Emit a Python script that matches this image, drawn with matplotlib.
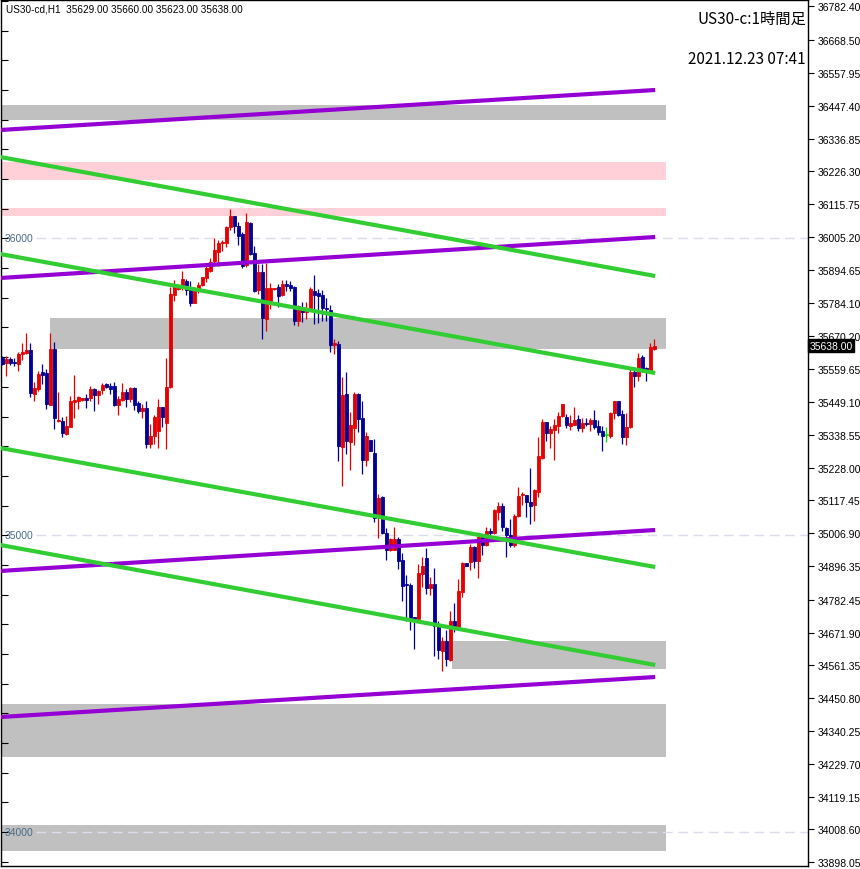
import matplotlib
matplotlib.use("Agg")
import matplotlib.pyplot as plt
from matplotlib.ticker import MultipleLocator

# ---- H1 candles (bar index = position)
opens = [35596, 35580, 35594, 35585, 35577, 35611, 35614, 35624, 35476, 35493,
         35551, 35547, 35440, 35628, 35385, 35385, 35341, 35366, 35450, 35453,
         35456, 35461, 35462, 35493, 35472, 35490, 35508, 35504, 35503, 35440,
         35457, 35484, 35459, 35496, 35446, 35419, 35429, 35307, 35335, 35352,
         35432, 35378, 35498, 35810, 35830, 35832, 35857, 35827, 35783, 35823,
         35844, 35868, 35890, 35923, 35955, 35984, 35985, 36040, 36077, 36043,
         36015, 35912, 36052, 35951, 35826, 35888, 35729, 35785, 35829, 35837,
         35810, 35847, 35843, 35837, 35723, 35770, 35753, 35766, 35823, 35816,
         35810, 35766, 35759, 35642, 35644, 35298, 35476, 35315, 35361, 35476,
         35395, 35253, 35321, 35277, 35068, 35130, 35007, 34951, 34951, 34987,
         34916, 34836, 34832, 34723, 34718, 34869, 34923, 34822, 34836, 34695,
         34611, 34642, 34579, 34710, 34692, 34810, 34906, 34911, 34961, 34914,
         34993, 34967, 35015, 35006, 35079, 35098, 35023, 35001, 34967, 35064,
         35136, 35136, 35111, 35102, 35147, 35259, 35380, 35344, 35354, 35369,
         35401, 35397, 35369, 35371, 35392, 35361, 35377, 35375, 35388, 35369,
         35352, 35338, 35333, 35412, 35452, 35408, 35330, 35364, 35551, 35537,
         35600, 35564, 35549, 35629]
highs = [35605, 35603, 35602, 35596, 35616, 35648, 35681, 35648, 35515, 35554,
         35577, 35560, 35681, 35650, 35484, 35398, 35403, 35468, 35540, 35470,
         35463, 35477, 35502, 35496, 35490, 35513, 35513, 35512, 35517, 35470,
         35512, 35493, 35500, 35498, 35453, 35442, 35451, 35375, 35406, 35459,
         35432, 35596, 35835, 35861, 35847, 35891, 35863, 35856, 35837, 35852,
         35871, 35914, 35933, 36002, 35996, 35996, 36043, 36099, 36077, 36057,
         36021, 36086, 36057, 35976, 35914, 35914, 35917, 35850, 35833, 35847,
         35860, 35860, 35858, 35841, 35776, 35787, 35787, 35835, 35877, 35830,
         35827, 35798, 35776, 35661, 35656, 35534, 35551, 35414, 35484, 35479,
         35453, 35347, 35321, 35324, 35139, 35133, 35024, 34990, 35027, 34995,
         34940, 34866, 34838, 34724, 34903, 34926, 34957, 34860, 34889, 34712,
         34656, 34680, 34746, 34771, 34852, 34909, 34906, 34970, 34965, 35004,
         35001, 35027, 35023, 35088, 35111, 35108, 35027, 35055, 35071, 35161,
         35145, 35137, 35226, 35156, 35332, 35392, 35382, 35369, 35392, 35416,
         35442, 35408, 35405, 35431, 35405, 35394, 35394, 35394, 35422, 35388,
         35367, 35364, 35416, 35452, 35452, 35422, 35412, 35566, 35566, 35614,
         35607, 35566, 35648, 35660]
lows = [35574, 35537, 35574, 35571, 35554, 35591, 35611, 35467, 35453, 35487,
        35510, 35425, 35439, 35358, 35381, 35331, 35338, 35364, 35394, 35425,
        35453, 35429, 35453, 35420, 35442, 35476, 35496, 35476, 35434, 35406,
        35453, 35433, 35448, 35422, 35411, 35394, 35293, 35293, 35307, 35293,
        35364, 35291, 35496, 35790, 35827, 35827, 35809, 35773, 35781, 35816,
        35839, 35854, 35886, 35908, 35906, 35959, 35972, 36029, 36017, 35978,
        35900, 35905, 35944, 35819, 35813, 35661, 35689, 35762, 35827, 35770,
        35805, 35824, 35822, 35708, 35706, 35720, 35729, 35762, 35712, 35714,
        35723, 35723, 35618, 35611, 35251, 35167, 35274, 35220, 35305, 35347,
        35206, 35234, 35285, 35046, 34991, 35004, 34916, 34948, 34951, 34886,
        34779, 34712, 34681, 34616, 34718, 34824, 34802, 34799, 34594, 34583,
        34543, 34560, 34577, 34673, 34692, 34793, 34897, 34884, 34888, 34855,
        34933, 34965, 34990, 35004, 35052, 35015, 34926, 34959, 34959, 35060,
        35102, 35060, 35038, 35049, 35130, 35257, 35318, 35294, 35254, 35344,
        35397, 35361, 35356, 35371, 35350, 35349, 35369, 35352, 35358, 35338,
        35285, 35313, 35328, 35392, 35401, 35307, 35304, 35361, 35500, 35521,
        35549, 35519, 35547, 35623]
closes = [35577, 35594, 35581, 35579, 35611, 35618, 35624, 35479, 35496, 35543,
          35540, 35442, 35628, 35394, 35389, 35344, 35368, 35451, 35457, 35467,
          35461, 35457, 35493, 35474, 35487, 35506, 35499, 35493, 35440, 35459,
          35483, 35459, 35495, 35440, 35418, 35429, 35307, 35335, 35399, 35432,
          35397, 35499, 35813, 35837, 35839, 35863, 35827, 35783, 35823, 35843,
          35870, 35899, 35922, 35962, 35986, 35989, 36040, 36077, 36043, 36009,
          35906, 36054, 35948, 35824, 35888, 35731, 35832, 35833, 35833, 35807,
          35847, 35841, 35834, 35723, 35771, 35753, 35766, 35830, 35810, 35807,
          35766, 35763, 35642, 35648, 35302, 35472, 35318, 35371, 35476, 35392,
          35253, 35334, 35285, 35057, 35125, 35007, 34951, 34987, 34987, 34914,
          34830, 34833, 34715, 34715, 34873, 34895, 34822, 34836, 34695, 34614,
          34642, 34583, 34710, 34695, 34811, 34905, 34897, 34961, 34914, 34995,
          34967, 35013, 35006, 35085, 35097, 35029, 35002, 34967, 35064, 35133,
          35139, 35111, 35099, 35152, 35268, 35382, 35343, 35358, 35371, 35401,
          35442, 35372, 35377, 35388, 35361, 35377, 35375, 35388, 35364, 35349,
          35335, 35338, 35412, 35452, 35405, 35330, 35364, 35551, 35537, 35597,
          35560, 35551, 35633, 35638]

# ---- drawn objects: (bar0, price0, bar1, price1)
purple_lines = [(-0.5, 36365.5, 163.2, 36500.3),
                (-0.5, 35866.8, 163.2, 36004.9),
                (-0.5, 34879.4, 163.2, 35017.5),
                (-0.5, 34387.3, 163.2, 34522.1)]
green_lines = [(-0.5, 36274.5, 163.2, 35873.5),
               (-0.5, 35947.6, 163.2, 35546.6),
               (-0.5, 35293.9, 163.2, 34892.8),
               (-0.5, 34967.0, 163.2, 34562.6)]

# zones: (bar_start, bar_end, low, high, color)
zones = [(-1, 165.9, 36399, 36450, '#C0C0C0'),
         (-1, 165.9, 36197, 36258, '#FFD0D8'),
         (-1, 165.9, 36076, 36103, '#FFD0D8'),
         (11.9, 165.9, 35628, 35732, '#C0C0C0'),
         (112.4, 165.9, 34549, 34644, '#C0C0C0'),
         (-1, 165.9, 34253, 34431, '#C0C0C0'),
         (-1, 165.9, 33936, 34023, '#C0C0C0')]

round_levels = [36000, 35000, 34000]
doji_bars = [151]

price_ticks = [36782.40, 36668.50, 36557.95, 36447.40, 36336.85, 36226.30, 36115.75,
               36005.20, 35894.65, 35784.10, 35670.20, 35559.65, 35449.10, 35338.55,
               35228.00, 35117.45, 35006.90, 34896.35, 34782.45, 34671.90, 34561.35,
               34450.80, 34340.25, 34229.70, 34119.15, 34008.60, 33898.05]

symbol = "US30-cd,H1"
title_right = "US30-c:1時間足"
time_text = "2021.12.23 07:41"

UP = '#E60000'
DOWN = '#000099'

fig = plt.figure(figsize=(8.6, 8.7), dpi=100)
ax = fig.add_axes([1 / 860, 3 / 870, 807 / 860, 866 / 870])
ax.set_xlim(-0.325, 201.4)
ax.set_ylim(33885.2, 36803.6)

for b0, b1, lo, hi, c in zones:
    ax.fill_between([b0, b1], lo, hi, color=c, linewidth=0, zorder=1)

for lvl in round_levels:
    ax.plot([8.5, 201.4], [lvl, lvl], color='#DCDCEE', lw=1, dashes=(7, 4), zorder=2)
    ax.text(0.6, lvl, str(lvl), color='#4A6B8A', fontsize=7.5, va='center', ha='left',
            family='Liberation Sans', zorder=2)

# candles
for i in range(len(opens)):
    o, h, l, c = opens[i], highs[i], lows[i], closes[i]
    col = UP if c > o else DOWN
    if i in doji_bars:
        col = '#00EE00'
    ax.vlines(i, l, h, color=col, lw=0.9, zorder=3)
    body = max(abs(c - o), 2.0)
    ax.bar(i, body, width=0.6, bottom=min(o, c), color=col, edgecolor=col, lw=0.6, zorder=3)

for x0, y0, x1, y1 in purple_lines:
    ax.plot([x0, x1], [y0, y1], color='#9400D3', lw=3.0, solid_capstyle='butt', zorder=4)
for x0, y0, x1, y1 in green_lines:
    ax.plot([x0, x1], [y0, y1], color='#32CD32', lw=3.0, solid_capstyle='butt', zorder=4)

# axes
ax.set_xticks([])
ax.yaxis.tick_right()
ax.set_yticks(price_ticks)
ax.set_yticklabels(['%.2f' % t for t in price_ticks])
ax.tick_params(axis='y', which='major', direction='out', length=4, width=0.8, pad=3,
               labelsize=7.5, right=True, left=False)
ax.yaxis.set_minor_locator(MultipleLocator(100))
ax.tick_params(axis='y', which='minor', left=True, right=False, direction='in', length=5, width=0.8)
for lab in ax.get_yticklabels():
    lab.set_family('Liberation Sans')
for s in ax.spines.values():
    s.set_linewidth(1.0)
    s.set_color('black')

last = closes[-1]
ax.text(1.002, last, '%.2f' % last, transform=ax.get_yaxis_transform(), color='white',
        fontsize=7.5, va='center', ha='left', family='Liberation Sans',
        bbox=dict(boxstyle='square,pad=0.15', facecolor='black', edgecolor='black'), zorder=6)

header = "%s  %.2f %.2f %.2f %.2f" % (symbol, opens[-1], highs[-1], lows[-1], closes[-1])
fig.text(6 / 860, 1 - 9 / 870, header, fontsize=7.2, va='center', ha='left', family='Liberation Sans')
fig.text(806 / 860, 1 - 19 / 870, title_right, fontsize=11, va='center', ha='right',
         family=['Noto Sans CJK JP', 'DejaVu Sans'])
fig.text(806 / 860, 1 - 59 / 870, time_text, fontsize=11, va='center', ha='right',
         family=['Noto Sans CJK JP', 'DejaVu Sans'])

fig.savefig('out.png', dpi=100)
